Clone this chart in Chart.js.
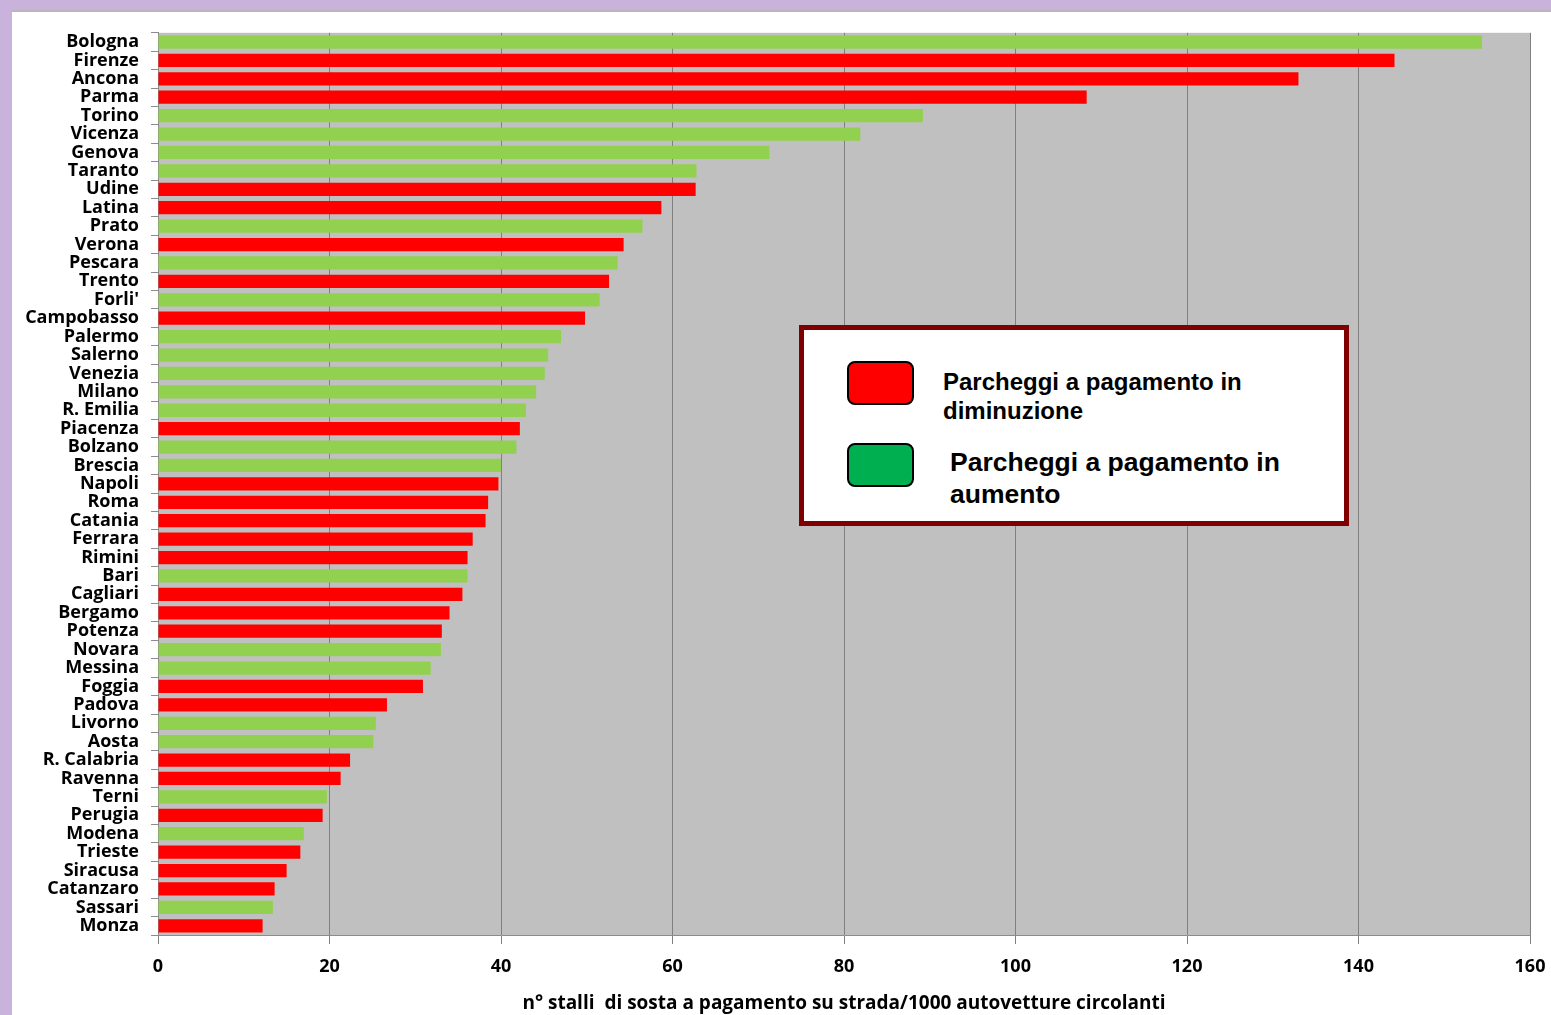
<!DOCTYPE html>
<html>
<head>
<meta charset="utf-8">
<script src="https://cdn.jsdelivr.net/npm/chart.js@4"></script>
<style>
  html, body { margin: 0; padding: 0; }
  body { width: 1551px; height: 1015px; background: #c9b2dc; position: relative; overflow: hidden; }
  #sheet { position: absolute; left: 12px; top: 10px; width: 1539px; height: 1005px; background: #fff; border-top: 2px solid #b8b8b8; box-sizing: border-box; }
  #chart { position: absolute; left: 0; top: -2px; }
  #legend { position: absolute; left: 787px; top: 313px; width: 550px; height: 201px; box-sizing: border-box; border: 5px solid #7f0000; background: #fff; font-family: "Liberation Sans", Arial, sans-serif; font-weight: bold; color: #000; }
  .sw { position: absolute; left: 43px; width: 67px; height: 44px; border: 2px solid #000; border-radius: 8px; box-sizing: border-box; }
  .lt { position: absolute; line-height: 29px; white-space: nowrap; }
</style>
</head>
<body>
<div id="sheet">
  <canvas id="chart" width="1542" height="1005"></canvas>
  <div id="legend">
    <div class="sw" style="top:31px;background:#ff0000"></div>
    <div class="lt" style="left:139px;top:37px;font-size:24px">Parcheggi a pagamento in<br>diminuzione</div>
    <div class="sw" style="top:113px;background:#00b050"></div>
    <div class="lt" style="left:146px;top:116px;font-size:26.5px;line-height:32px">Parcheggi a pagamento in<br>aumento</div>
  </div>
</div>
<script>
const cities = ['Bologna', 'Firenze', 'Ancona', 'Parma', 'Torino', 'Vicenza', 'Genova', 'Taranto', 'Udine', 'Latina',
  'Prato', 'Verona', 'Pescara', 'Trento', "Forli'", 'Campobasso', 'Palermo', 'Salerno', 'Venezia', 'Milano',
  'R. Emilia', 'Piacenza', 'Bolzano', 'Brescia', 'Napoli', 'Roma', 'Catania', 'Ferrara', 'Rimini', 'Bari',
  'Cagliari', 'Bergamo', 'Potenza', 'Novara', 'Messina', 'Foggia', 'Padova', 'Livorno', 'Aosta', 'R. Calabria',
  'Ravenna', 'Terni', 'Perugia', 'Modena', 'Trieste', 'Siracusa', 'Catanzaro', 'Sassari', 'Monza'];
const stalls = [154.4, 144.2, 133.0, 108.3, 89.2, 81.9, 71.3, 62.8, 62.7, 58.7,
  56.5, 54.3, 53.6, 52.6, 51.5, 49.8, 47.0, 45.5, 45.1, 44.1,
  42.9, 42.2, 41.8, 40.0, 39.7, 38.5, 38.2, 36.7, 36.1, 36.1,
  35.5, 34.0, 33.1, 33.0, 31.8, 30.9, 26.7, 25.4, 25.1, 22.4,
  21.3, 19.7, 19.2, 17.0, 16.6, 15.0, 13.6, 13.4, 12.2];
// 'up' = in aumento (verde), 'down' = in diminuzione (rosso)
const trend = ['up', 'down', 'down', 'down', 'up', 'up', 'up', 'up', 'down', 'down',
  'up', 'down', 'up', 'down', 'up', 'down', 'up', 'up', 'up', 'up',
  'up', 'down', 'up', 'up', 'down', 'down', 'down', 'down', 'down', 'up',
  'down', 'down', 'down', 'up', 'up', 'down', 'down', 'up', 'up', 'down',
  'down', 'up', 'down', 'up', 'down', 'down', 'down', 'up', 'down'];
const xTicks = [0, 20, 40, 60, 80, 100, 120, 140, 160];

const labelFont = { family: '"Open Sans", Lato, sans-serif', size: 18, weight: 'bold' };

const plotBg = {
  id: 'plotBg',
  beforeDraw(c) {
    const a = c.chartArea;
    c.ctx.save();
    c.ctx.fillStyle = '#c0c0c0';
    c.ctx.fillRect(a.left, a.top, a.right - a.left, a.bottom - a.top);
    c.ctx.restore();
  }
};

new Chart(document.getElementById('chart').getContext('2d'), {
  type: 'bar',
  data: {
    labels: cities,
    datasets: [{
      data: stalls,
      backgroundColor: trend.map(t => t === 'up' ? '#92d050' : '#ff0000'),
      categoryPercentage: 1,
      barPercentage: 0.72
    }]
  },
  plugins: [plotBg],
  options: {
    indexAxis: 'y',
    responsive: false,
    animation: false,
    layout: { padding: { top: 16, right: 1, left: 0, bottom: 0 } },
    plugins: {
      legend: { display: false },
      tooltip: { enabled: false }
    },
    scales: {
      x: {
        min: 0,
        max: 160,
        afterBuildTicks: (s) => { s.ticks = xTicks.map(v => ({ value: v })); },
        afterFit: (s) => { s.height = 80; s.paddingRight = 24; },
        grid: { color: '#808080', tickLength: 9, lineWidth: 1 },
        border: { color: '#8c8c8c' },
        ticks: { color: '#000', font: labelFont, padding: 12 },
        title: {
          display: true,
          text: 'n° stalli  di sosta a pagamento su strada/1000 autovetture circolanti',
          color: '#000',
          font: { family: '"Open Sans", Lato, sans-serif', size: 19, weight: 'bold' },
          padding: { top: 1, bottom: 0 }
        }
      },
      y: {
        afterFit: (s) => { s.width = 146; },
        grid: { offset: true, drawOnChartArea: false, color: '#8c8c8c', tickLength: 7 },
        border: { color: '#8c8c8c' },
        ticks: { color: '#000', font: labelFont, padding: 12, autoSkip: false }
      }
    }
  }
});
</script>
</body>
</html>
